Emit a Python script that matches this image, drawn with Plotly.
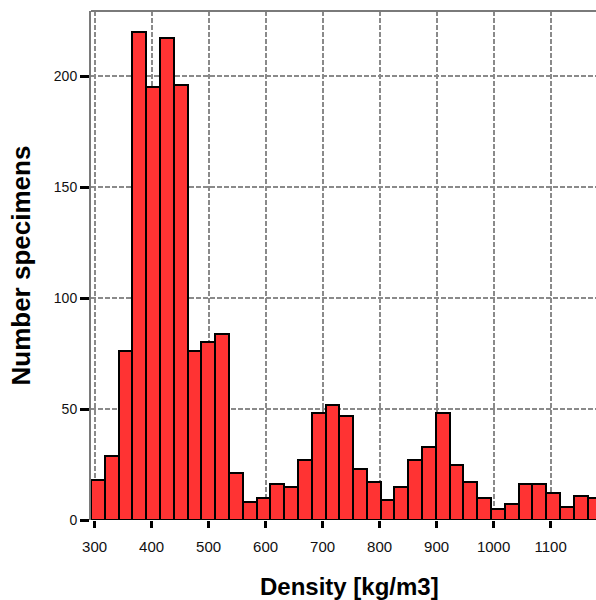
import plotly.graph_objects as go

# Histogram data (counts per density bin)
bin_start = 293.7
bin_width = 24.2
counts = [18, 29, 76, 220, 195, 217, 196, 76, 80, 84,
          21, 8, 10, 16, 15, 27, 48, 52, 47, 23,
          17, 9, 15, 27, 33, 48, 25, 17, 10, 5,
          7, 16, 16, 12, 6, 11, 10]
x_ticks = [300, 400, 500, 600, 700, 800, 900, 1000, 1100]
y_ticks = [0, 50, 100, 150, 200]

centers = [bin_start + bin_width * (i + 0.5) for i in range(len(counts))]

fig = go.Figure(go.Bar(
    x=centers, y=counts, width=[bin_width] * len(counts),
    marker=dict(color="#FF3333", line=dict(color="black", width=2)),
))

px_per_unit = 0.57
plot_w = 596 - 91
x_max = bin_start + plot_w / px_per_unit

fig.update_layout(
    width=596, height=600,
    margin=dict(l=91, r=0, t=11, b=80),
    plot_bgcolor="white", paper_bgcolor="white",
    showlegend=False, bargap=0,
    font=dict(family="Liberation Sans, Arial, sans-serif", color="#111"),
    xaxis=dict(
        range=[bin_start, x_max], tickvals=x_ticks,
        ticktext=[str(v) for v in x_ticks],
        ticks="outside", ticklen=7, tickwidth=3, tickcolor="black",
        tickfont=dict(size=15), ticklabelstandoff=6,
        showgrid=True, gridcolor="#8a8a8a", gridwidth=1.5, griddash="5px,2px",
        zeroline=False, showline=False,
    ),
    yaxis=dict(
        range=[0, 509 / 2.22], tickvals=y_ticks,
        ticks="outside", ticklen=9, tickwidth=3, tickcolor="black",
        tickfont=dict(size=14),
        showgrid=True, gridcolor="#8a8a8a", gridwidth=1.5, griddash="5px,2px",
        zeroline=False, showline=True, linecolor="#7a7a7a", linewidth=2,
    ),
    shapes=[dict(type="line", xref="paper", yref="paper", x0=0, x1=1, y0=1, y1=1,
                 line=dict(color="#7a7a7a", width=2))],
    annotations=[
        dict(text="<b>Density [kg/m3]</b>", xref="x", yref="paper",
             x=748, y=0, yshift=-66, yanchor="middle", showarrow=False,
             font=dict(size=24, color="black")),
        dict(text="<b>Number specimens</b>", xref="paper", yref="paper",
             x=0, xshift=-71, y=0.5, xanchor="center", yanchor="middle",
             textangle=-90, showarrow=False, font=dict(size=26, color="black")),
    ],
)

fig.write_html("out.html")
